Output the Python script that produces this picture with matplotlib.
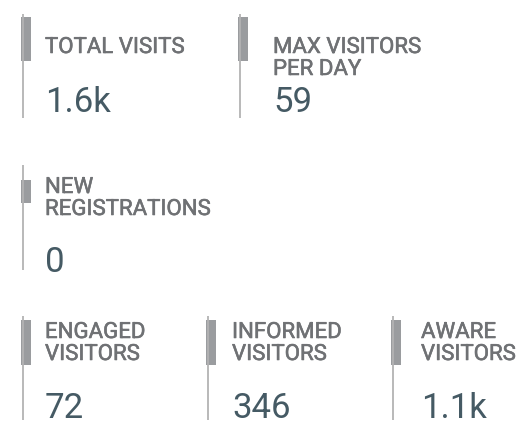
import matplotlib
matplotlib.use("Agg")
import matplotlib.pyplot as plt
from matplotlib.patches import Rectangle
import matplotlib.patheffects as pe

# ---- data ----
titles = ["TOTAL VISITS", "MAX VISITORS\nPER DAY", "NEW\nREGISTRATIONS",
          "ENGAGED\nVISITORS", "INFORMED\nVISITORS", "AWARE\nVISITORS"]
values = ["1.6k", "59", "0", "72", "346", "1.1k"]

# ---- layout (pixels, origin top-left) ----
card_x = [21, 238, 21, 21, 206, 391]          # left edge of marker bar
text_x = [45, 273, 45, 45, 232, 421]
line_top = [14, 14, 165, 316, 316, 316]
line_bot = [118, 118, 270, 420, 420, 420]
bar_top = [17, 17, 180, 320, 320, 320]
bar_bot = [61, 61, 203, 365, 365, 365]
title_base = [53, 53, 193, 338, 338, 338]
value_base = [112, 112, 272, 418, 418, 418]
line_pitch = 22

W, H = 522, 424
fig = plt.figure(figsize=(W / 100, H / 100), dpi=100)
ax = fig.add_axes([0, 0, 1, 1])
ax.set_xlim(0, W)
ax.set_ylim(H, 0)
ax.axis("off")

title_color = "#6f7174"
value_color = "#455a64"
bar_color = "#9a9c9f"
line_color = "#b3b3b3"

for i, (t, v) in enumerate(zip(titles, values)):
    x0 = card_x[i]
    ax.plot([x0 + 1.5, x0 + 1.5], [line_top[i], line_bot[i]],
            color=line_color, lw=1.3, solid_capstyle="butt")
    ax.add_patch(Rectangle((x0, bar_top[i]), 10, bar_bot[i] - bar_top[i],
                           facecolor=bar_color, edgecolor="none"))
    for k, ln in enumerate(t.split("\n")):
        ax.text(text_x[i], title_base[i] + k * line_pitch, ln,
                fontfamily="Roboto", fontweight="normal", fontsize=16,
                color=title_color, va="baseline", ha="left",
                path_effects=[pe.withStroke(linewidth=0.4, foreground=title_color)])
    ax.text(text_x[i], value_base[i], v, fontfamily="Roboto",
            fontweight="normal", fontsize=25, color=value_color,
            va="baseline", ha="left")

fig.savefig("out.png", dpi=100)
